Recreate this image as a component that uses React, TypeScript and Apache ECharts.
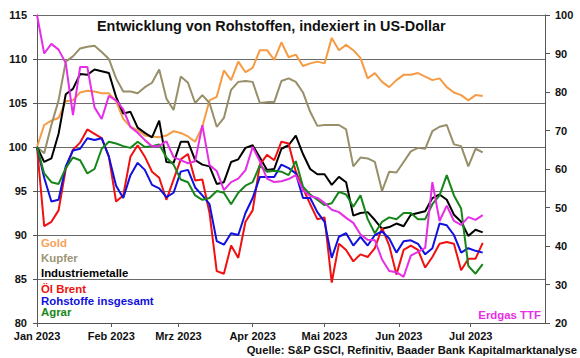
import React, { useEffect, useRef } from "react";
import * as echarts from "echarts";

// days since 1 Jan 2023 (sampled every 3 days)
const DAYS = [
  0, 3, 6, 9, 12, 15, 18, 21, 24, 27, 30, 33, 36, 39, 42, 45, 48, 51, 54, 57, 60,
  63, 66, 69, 72, 75, 78, 81, 84, 87, 90, 93, 96, 99, 102, 105, 108, 111, 114, 117,
  120, 123, 126, 129, 132, 135, 138, 141, 144, 147, 150, 153, 156, 159, 162, 165,
  168, 171, 174, 177, 180, 183, 186,
];
const MONTH_STARTS = [0, 31, 59, 90, 120, 151, 181];
const MONTH_LABELS = ["Jan 2023", "Feb 2023", "Mrz 2023", "Apr 2023", "Mai 2023", "Jun 2023", "Jul 2023"];

const GOLD = [
  100, 102.5, 103.0, 103.3, 105.2, 105.3, 106.2, 106.4, 106.3, 106.1,
  106.1, 105.2, 103.2, 102.3, 101.9, 101.3, 101.2, 101.1, 101.3, 101.8,
  101.6, 101.2, 100.6, 102.3, 105.3, 105.7, 108.7, 107.6, 109.7, 108.5,
  109.0, 111.0, 111.0, 109.9, 111.9, 110.2, 110.5, 109.2, 109.5, 109.7,
  109.5, 112.4, 111.0, 111.6, 111.0, 110.1, 107.8, 108.4, 107.4, 106.8,
  107.6, 108.2, 108.2, 108.4, 108.0, 107.6, 107.8, 106.8, 106.2, 105.9,
  105.3, 105.9, 105.8,
];
const KUPFER = [
  100, 99.3, 102.5, 105.3, 109.7, 110.3, 111.2, 111.4, 111.5, 110.8,
  110.0, 107.8, 106.3, 106.3, 106.1, 106.8, 107.3, 108.8, 105.5, 104.2,
  108.0, 107.3, 105.0, 105.9, 105.0, 102.3, 103.3, 106.5, 107.4, 107.5,
  107.4, 105.0, 105.1, 105.1, 107.5, 107.8, 107.4, 106.2, 104.0, 102.4,
  102.5, 102.5, 102.5, 102.0, 97.8, 98.8, 98.7, 98.3, 95.0, 97.2,
  97.1, 98.3, 99.5, 99.9, 99.8, 101.8, 102.3, 102.5, 100.3, 100.1,
  97.8, 99.8, 99.4,
];
const INDUSTRIEMETALLE = [
  100, 98.3, 98.7, 101.5, 106.0, 106.6, 108.3, 108.2, 108.8, 108.6,
  108.4, 105.7, 103.8, 104.0, 102.2, 101.6, 101.1, 103.0, 98.3, 98.2,
  100.6, 100.6, 98.5, 98.0, 97.8, 95.8, 96.0, 98.3, 98.6, 99.9,
  100.2, 98.8, 97.4, 97.5, 99.8, 100.2, 101.3, 99.2, 97.5, 96.9,
  96.9, 95.7, 96.6, 96.0, 92.2, 92.5, 92.6, 91.7, 90.7, 90.9,
  91.3, 91.0, 92.3, 92.5, 92.7, 94.2, 94.6, 94.0, 92.3, 91.5,
  89.9, 90.6, 90.3,
];
const OEL_BRENT = [
  100, 91.0, 91.5, 92.8, 97.5, 99.7, 100.5, 102.0, 101.5, 101.0,
  98.9, 93.8, 94.5, 98.9, 100.2, 98.9, 97.2, 96.5, 94.0, 96.3,
  98.6, 99.2, 96.2, 96.3, 92.5, 85.9, 85.6, 88.8, 87.4, 91.5,
  92.8, 98.0, 99.1, 98.5, 100.6, 100.4, 97.2, 95.3, 93.5, 91.8,
  92.0, 84.6, 89.0, 88.3, 87.0, 87.8, 87.5, 88.5, 90.8, 88.8,
  85.5, 88.3, 88.8, 88.3, 86.3, 87.5, 89.0, 89.2, 89.0, 86.0,
  87.3, 87.3, 89.1,
];
const ROHSTOFFE = [
  100, 96.5, 93.8, 94.0, 97.8, 99.6, 99.8, 101.0, 100.8, 101.0,
  98.9, 95.6, 94.2, 96.8, 98.2, 97.4, 95.7, 95.3, 94.3, 94.8,
  97.2, 97.4, 95.4, 94.5, 93.5, 89.3, 88.9, 90.2, 90.0, 92.5,
  94.2, 96.6, 96.6, 96.6, 98.0, 97.6, 97.0, 94.2, 94.2, 92.6,
  91.5, 87.4, 89.8, 90.2, 88.8, 89.8, 88.8, 90.0, 90.4, 89.6,
  88.0, 89.3, 89.4, 89.0, 87.8, 88.5, 91.3, 91.1, 90.0, 88.0,
  88.5, 88.2, 88.0,
];
const AGRAR = [
  100, 97.0, 96.0, 95.8, 97.6, 98.8, 98.5, 97.0, 97.5, 99.8,
  100.6, 100.4, 100.1, 99.9, 100.6, 100.0, 100.1, 100.3, 98.8, 98.0,
  96.3, 96.0, 94.5, 94.0, 94.2, 95.0, 94.8, 93.5, 94.8, 95.6,
  96.0, 97.9, 97.2, 97.3, 97.2, 96.8, 98.4, 95.5, 94.6, 94.0,
  93.4, 93.6, 94.9, 94.6, 93.2, 94.5, 91.8, 90.2, 91.5, 92.0,
  91.8, 92.5, 92.5, 91.8, 91.8, 93.5, 94.5, 96.8, 94.5, 93.0,
  86.5, 85.6, 86.7,
];
// right axis
const ERDGAS_TTF = [
  100, 90.0, 92.5, 91.0, 87.5, 74.0, 86.5, 86.5, 76.0, 73.0,
  79.0, 77.8, 75.5, 70.9, 69.4, 67.5, 65.9, 66.0, 67.2, 63.1,
  62.3, 61.5, 62.0, 71.4, 61.0, 59.5, 54.5, 56.6, 57.5, 59.7,
  65.7, 62.0, 57.5, 56.6, 56.8, 57.4, 58.4, 54.5, 53.0, 52.5,
  51.2, 49.4, 48.8, 47.3, 46.0, 43.0, 41.6, 41.5, 36.5, 33.5,
  33.2, 32.0, 37.5, 38.5, 39.5, 56.6, 46.5, 50.5, 46.5, 45.5,
  47.5, 46.8, 48.0,
];

const FONT = "'Liberation Sans', Arial, sans-serif";

const SERIES_DEF = [
  { name: "Gold", data: GOLD, color: "#F59B45", axis: 0 },
  { name: "Kupfer", data: KUPFER, color: "#978F69", axis: 0 },
  { name: "Industriemetalle", data: INDUSTRIEMETALLE, color: "#000000", axis: 0 },
  { name: "Öl Brent", data: OEL_BRENT, color: "#F01010", axis: 0 },
  { name: "Rohstoffe insgesamt", data: ROHSTOFFE, color: "#1010E0", axis: 0 },
  { name: "Agrar", data: AGRAR, color: "#16861A", axis: 0 },
  { name: "Erdgas TTF", data: ERDGAS_TTF, color: "#E62EE6", axis: 1 },
];

const LEGEND_POS = [
  { text: "Gold", color: "#F5A35A", y: 243 },
  { text: "Kupfer", color: "#9C9474", y: 258 },
  { text: "Industriemetalle", color: "#000000", y: 273 },
  { text: "Öl Brent", color: "#F01010", y: 289 },
  { text: "Rohstoffe insgesamt", color: "#1010E0", y: 301 },
  { text: "Agrar", color: "#16861A", y: 312 },
];

export default function App() {
  const ref = useRef<HTMLDivElement>(null);
  useEffect(() => {
    document.body.style.margin = "0";
    const chart = echarts.init(ref.current!, null, { renderer: "svg" });
    const axisColor = "#555";
    const labelStyle = { fontFamily: FONT, fontWeight: "bold" as const, fontSize: 11, color: "#111" };
    chart.setOption({
      animation: false,
      backgroundColor: "#fff",
      grid: { left: 37, right: 35, top: 15, bottom: 35 },
      xAxis: {
        type: "value",
        min: 0,
        max: 212,
        axisLine: { show: true, lineStyle: { color: axisColor, width: 1 } },
        axisTick: { show: true, customValues: MONTH_STARTS, length: 4, lineStyle: { color: axisColor } },
        axisLabel: {
          ...labelStyle,
          customValues: MONTH_STARTS,
          margin: 7,
          formatter: (v: number) => MONTH_LABELS[MONTH_STARTS.indexOf(v)] ?? "",
        },
        splitLine: { show: false },
      },
      yAxis: [
        {
          type: "value",
          min: 80,
          max: 115,
          interval: 5,
          position: "left",
          axisLine: { show: true, lineStyle: { color: axisColor } },
          axisTick: { show: true, length: 4, lineStyle: { color: axisColor } },
          axisLabel: { ...labelStyle, margin: 10 },
          splitLine: { show: true, lineStyle: { color: "#6a6a6a", width: 1 } },
        },
        {
          type: "value",
          min: 20,
          max: 100,
          interval: 10,
          position: "right",
          axisLine: { show: true, lineStyle: { color: axisColor } },
          axisTick: { show: true, length: 5, lineStyle: { color: axisColor } },
          axisLabel: { ...labelStyle, margin: 10 },
          splitLine: { show: false },
        },
      ],
      series: SERIES_DEF.map((s) => ({
        type: "line",
        name: s.name,
        yAxisIndex: s.axis,
        data: DAYS.map((d, i) => [d, s.data[i]]),
        showSymbol: false,
        symbol: "none",
        lineStyle: { color: s.color, width: 2 },
        itemStyle: { color: s.color },
      })),
      graphic: {
        elements: [
          {
            type: "text",
            x: 97,
            y: 26,
            style: {
              text: "Entwicklung von Rohstoffen, indexiert in US-Dollar",
              font: `bold 14.4px ${FONT}`,
              fill: "#111",
              verticalAlign: "middle",
            },
          },
          ...LEGEND_POS.map((l) => ({
            type: "text",
            x: 41,
            y: l.y,
            style: { text: l.text, font: `bold 11.4px ${FONT}`, fill: l.color, verticalAlign: "middle" },
          })),
          {
            type: "text",
            x: 541,
            y: 315,
            style: { text: "Erdgas TTF", font: `bold 11.4px ${FONT}`, fill: "#E62EE6", align: "right", verticalAlign: "middle" },
          },
          {
            type: "text",
            x: 577,
            y: 350,
            style: {
              text: "Quelle: S&P GSCI, Refinitiv, Baader Bank Kapitalmarktanalyse",
              font: `bold 11.2px ${FONT}`,
              fill: "#111",
              align: "right",
              verticalAlign: "middle",
            },
          },
        ],
      },
    });
    return () => chart.dispose();
  }, []);
  return <div ref={ref} style={{ width: 580, height: 358 }} />;
}
